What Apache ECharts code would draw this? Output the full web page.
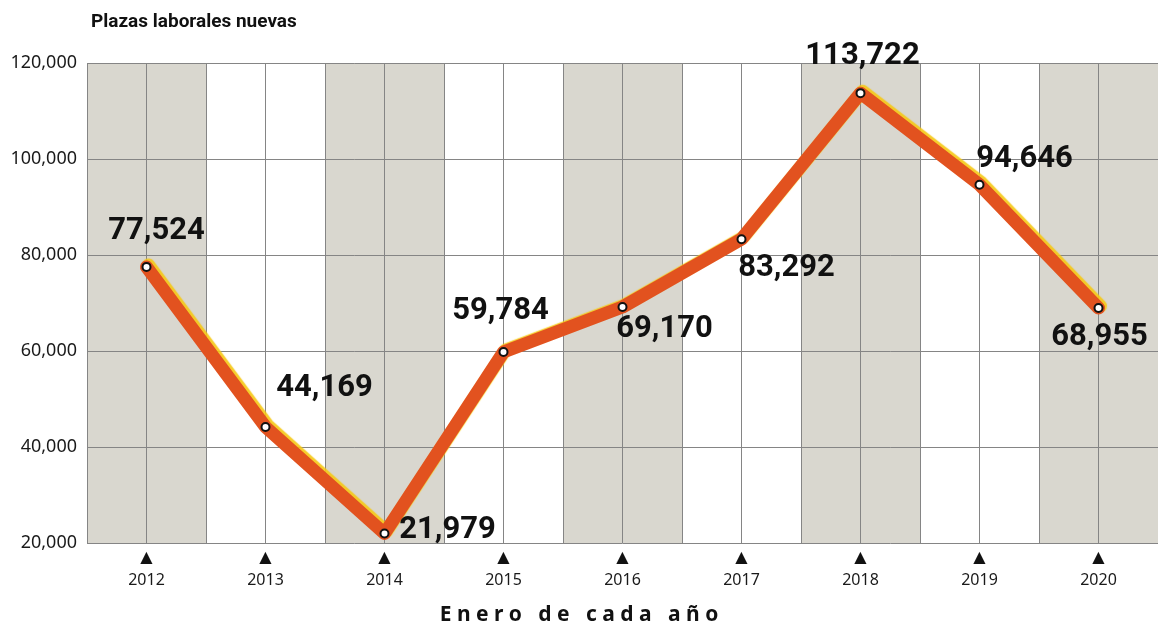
<!DOCTYPE html>
<html>
<head>
<meta charset="utf-8">
<script src="https://cdn.jsdelivr.net/npm/echarts@6/dist/echarts.min.js"></script>
<style>
  html, body { margin: 0; padding: 0; background: #fff; }
  #chart { width: 1158px; height: 625px; }
</style>
</head>
<body>
<div id="chart"></div>
<script>
// datos
const years = ['2012', '2013', '2014', '2015', '2016', '2017', '2018', '2019', '2020'];
const plazas = [77524, 44169, 21979, 59784, 69170, 83292, 113722, 94646, 68955];
const yTicks = [20000, 40000, 60000, 80000, 100000, 120000];

// desplazamiento de cada etiqueta respecto al punto
const labelOffsets = [[10, -36], [59, -39], [63, -3], [-3, -41], [42, 22], [45, 29], [2, -37], [45, -25], [1, 29]];

const chart = echarts.init(document.getElementById('chart'));

const fmt = v => v.toLocaleString('en-US');

const option = {
  backgroundColor: '#ffffff',
  animation: false,
  title: {
    text: 'Plazas laborales nuevas',
    left: 86,
    top: 8,
    textStyle: { fontFamily: 'Roboto', fontWeight: 'bold', fontSize: 19, color: '#111' }
  },
  graphic: [{
    type: 'text',
    left: 'center',
    top: 605,
    style: {
      text: 'E n e r o   d e   c a d a   a ñ o',
      fontFamily: 'Noto Sans',
      fontWeight: 'bold',
      fontSize: 21,
      fill: '#111'
    }
  }],
  grid: { left: 87, top: 63, width: 1073, height: 480 },
  xAxis: [{
    type: 'category',
    data: years,
    boundaryGap: true,
    z: 0,
    axisLine: { show: false },
    axisTick: { show: false },
    splitLine: { show: false },
    splitArea: { show: true, areaStyle: { color: ['#d9d7cf', '#ffffff'] } },
    axisLabel: {
      margin: 4,
      formatter: v => '{t|▲}\n{y|' + v + '}',
      rich: {
        t: { fontFamily: 'DejaVu Sans', fontSize: 16, color: '#111', lineHeight: 22 },
        y: { fontFamily: 'Noto Sans', fontSize: 16, color: '#1a1a1a', lineHeight: 22 }
      }
    }
  }, {
    type: 'category',
    data: years.flatMap(y => [y + 'a', y + 'b']),
    boundaryGap: true,
    position: 'top',
    z: 2,
    axisLine: { show: false },
    axisTick: { show: false },
    axisLabel: { show: false },
    splitLine: { show: true, lineStyle: { color: '#858585', width: 1 } }
  }],
  yAxis: {
    type: 'value',
    min: yTicks[0],
    max: yTicks[yTicks.length - 1],
    interval: yTicks[1] - yTicks[0],
    z: 2,
    axisLine: { show: false },
    axisTick: { show: false },
    axisLabel: {
      margin: 10,
      formatter: fmt,
      fontFamily: 'Noto Sans',
      fontSize: 18,
      color: '#1a1a1a'
    },
    splitLine: { show: true, lineStyle: { color: '#858585', width: 1 } }
  },
  series: [{
    type: 'line',
    xAxisIndex: 0,
    data: plazas.map((v, i) => ({
      value: v,
      label: { offset: labelOffsets[i] }
    })),
    symbol: 'circle',
    symbolSize: 8,
    z: 5,
    lineStyle: {
      color: '#e2521f',
      width: 13,
      cap: 'round',
      join: 'round',
      shadowColor: 'rgba(245, 200, 20, 0.9)',
      shadowBlur: 1,
      shadowOffsetX: 2,
      shadowOffsetY: -2
    },
    itemStyle: { color: '#ffffff', borderColor: '#111', borderWidth: 2 },
    label: {
      show: true,
      position: 'inside',
      formatter: p => fmt(p.value),
      fontFamily: 'Roboto',
      fontWeight: 'bold',
      fontSize: 31,
      color: '#111'
    }
  }]
};

chart.setOption(option);
</script>
</body>
</html>
